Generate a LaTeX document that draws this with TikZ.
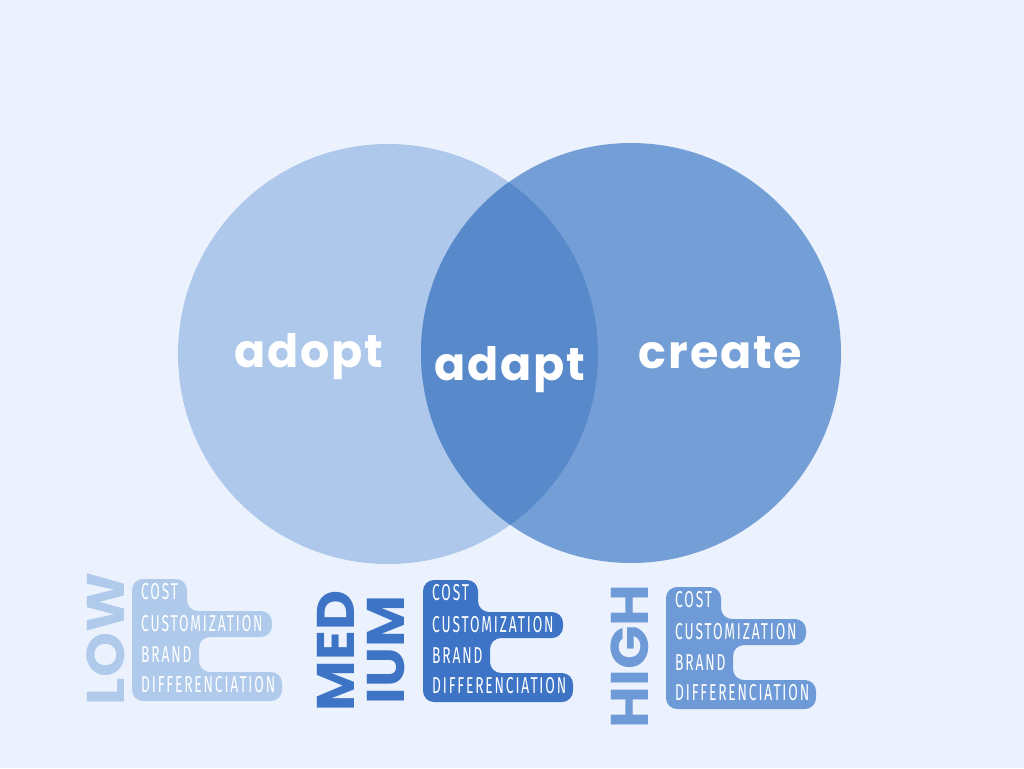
\documentclass[tikz,border=0pt]{standalone}
\usepackage{fontspec}
\newfontfamily\vennfont{Poppins}[LetterSpace=4]
\newfontfamily\condfont{Fira Sans}[FakeStretch=0.6, LetterSpace=8]
\newfontfamily\heavyfont{Poppins}
\definecolor{bgc}{HTML}{EBF2FD}
\definecolor{leftc}{HTML}{ADC8EB}
\definecolor{rightc}{HTML}{749FD6}
\definecolor{overc}{HTML}{5889CA}
\definecolor{lowc}{HTML}{B0CAEC}
\definecolor{medc}{HTML}{3D74C6}
\definecolor{highc}{HTML}{6E9BD7}
\tikzset{
  venntxt/.style={text=white, inner sep=0pt, anchor=base, font=\vennfont\bfseries\fontsize{46}{46}\selectfont},
  linetxt/.style={text=white, inner sep=0pt, anchor=base west, font=\condfont\fontsize{23}{23}\selectfont},
  biglbl/.style={inner sep=0pt, rotate=90, anchor=center, font=\heavyfont\bfseries\fontsize{53}{53}\selectfont},
  blob/.style={rounded corners=11pt}
}
\newcommand\levelbox[4]{%
  \begin{scope}[shift={(#1,#2)}]
    \fill[#3, blob] (0,0) -- (55,0) -- (55,32) -- (140,32) -- (140,58) -- (67,58) -- (67,93) -- (150,93) -- (150,122) -- (0,122) -- cycle;
    \node[linetxt] (#4-cost) at (9,20.5) {COST};
    \node[linetxt] (#4-cust) at (9,52.5) {CUSTOMIZATION};
    \node[linetxt] (#4-brand) at (9,83.5) {BRAND};
    \node[linetxt] (#4-diff) at (9,113.5) {DIFFERENCIATION};
  \end{scope}}
\begin{document}
\begin{tikzpicture}[x=1pt, y=-1pt]
\fill[bgc] (0,0) rectangle (1024,768);
\useasboundingbox (0,0) rectangle (1024,768);
% circles
\fill[leftc] (388,354) circle[radius=210];
\fill[rightc] (631,353) circle[radius=210];
\begin{scope}
  \clip (388,354) circle[radius=210];
  \fill[overc] (631,353) circle[radius=210];
\end{scope}
\node[venntxt] (adopt) at (309,367) {adopt};
\node[venntxt] (adapt) at (509.5,380) {adapt};
\node[venntxt] (create) at (720.5,368) {create};
% levels
\node[biglbl, text=lowc] (low) at (105.5,639) {\scalebox{1.08}[1]{LOW}};
\levelbox{132}{579}{lowc}{low}
\node[biglbl, text=medc] (med) at (336,651) {\scalebox{1.04}[1]{MED}};
\node[biglbl, text=medc] (ium) at (386.5,650) {\scalebox{1.07}[1]{IUM}};
\levelbox{423}{580}{medc}{med}
\node[biglbl, text=highc] (high) at (630,656.5) {\scalebox{1.08}[1]{HIGH}};
\levelbox{666}{587}{highc}{high}
\end{tikzpicture}
\end{document}
